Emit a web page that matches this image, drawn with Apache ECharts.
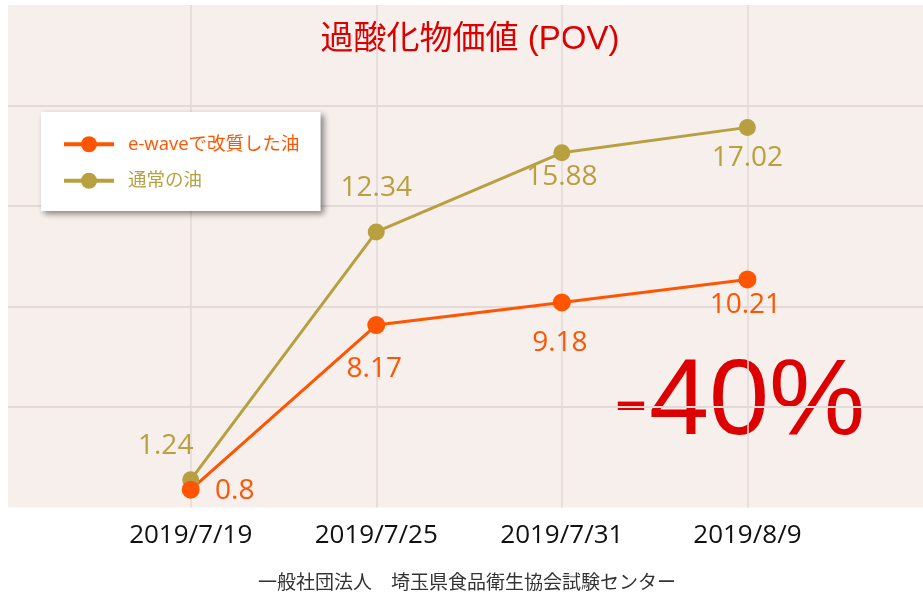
<!DOCTYPE html>
<html>
<head>
<meta charset="utf-8">
<script src="https://cdn.jsdelivr.net/npm/echarts@6/dist/echarts.min.js"></script>
<style>
  html, body { margin: 0; padding: 0; background: #fff; }
  #chart { width: 923px; height: 598px; }
</style>
</head>
<body>
<div id="chart"></div>
<script>
// data
var dates = ['2019/7/19', '2019/7/25', '2019/7/31', '2019/8/9'];
var ewaveOil = [0.8, 8.17, 9.18, 10.21];
var normalOil = [1.24, 12.34, 15.88, 17.02];
var seriesNames = ['e-waveで改質した油', '通常の油'];

var FONT = "'Open Sans', 'Noto Sans CJK JP', sans-serif";
var FONT2 = "'Liberation Sans', 'Noto Sans CJK JP', sans-serif";
var colors = ['#ff5500', '#b8a040', '#dd0000', '#f7efec', '#e3d9d7'];

// label offsets (relative to each point), one per point
var ewaveLabelOffset = [[44, 1], [-2, 44], [-2, 41], [-2, 26]];
var normalLabelOffset = [[-25, -34], [0, -44], [0, 24], [0, 31]];

function withLabels(values, offsets) {
    return values.map(function (v, i) {
        return { value: v, label: { offset: offsets[i] } };
    });
}

var chart = echarts.init(document.getElementById('chart'));
var option = {
    animation: false,
    textStyle: { fontFamily: FONT },
    graphic: [
        {
            type: 'rect', z: -10,
            shape: { x: 8, y: 5, width: 915, height: 502.5 },
            style: { fill: colors[3] }
        },
        {
            type: 'text',
            style: {
                text: '過酸化物価値 (POV)', x: 470, y: 40,
                align: 'center', verticalAlign: 'middle',
                font: '33px ' + FONT2, fill: colors[2]
            }
        },
        {
            type: 'text',
            style: {
                text: '-40%', x: 739, y: 404,
                align: 'center', verticalAlign: 'middle',
                font: '108px ' + FONT2, fill: colors[2]
            }
        },
        {
            type: 'text',
            style: {
                text: '一般社団法人　埼玉県食品衛生協会試験センター', x: 467, y: 584,
                align: 'center', verticalAlign: 'middle',
                font: '19px ' + FONT, fill: '#333'
            }
        }
    ],
    legend: {
        orient: 'vertical',
        left: 41,
        top: 112,
        data: seriesNames,
        backgroundColor: '#fff',
        padding: [23, 21, 21, 21],
        itemWidth: 50,
        itemHeight: 20,
        itemGap: 18,
        shadowBlur: 6,
        shadowColor: 'rgba(0,0,0,0.45)',
        shadowOffsetX: 3,
        shadowOffsetY: 3,
        lineStyle: { width: 4 },
        textStyle: {
            fontSize: 18.5,
            color: 'inherit',
            padding: [0, 0, 0, 9],
            fontFamily: FONT
        }
    },
    grid: [
        // data grid: the four dates
        { left: 190.7, right: 175.6, top: 5, height: 502.5 },
        // full-width grid for the horizontal lines
        { left: 8, right: 0, top: 5, height: 502.5 }
    ],
    xAxis: [
        {
            type: 'category',
            gridIndex: 0,
            boundaryGap: false,
            data: dates,
            axisLine: { show: false },
            axisTick: { show: false },
            axisLabel: {
                interval: 0,
                margin: 15,
                fontSize: 26,
                color: '#111',
                fontFamily: FONT
            },
            splitLine: {
                show: true,
                lineStyle: { color: colors[4], width: 1.5 }
            }
        },
        {
            type: 'value',
            gridIndex: 1,
            show: false
        }
    ],
    yAxis: [
        {
            type: 'value',
            gridIndex: 0,
            min: 0,
            max: 22.5,
            interval: 4.5,
            show: false
        },
        {
            type: 'value',
            gridIndex: 1,
            min: 0,
            max: 22.5,
            interval: 4.5,
            axisLine: { show: false },
            axisTick: { show: false },
            axisLabel: { show: false },
            splitLine: {
                show: true,
                showMinLine: false,
                showMaxLine: false,
                lineStyle: { color: colors[4], width: 2 }
            }
        }
    ],
    series: [
        {
            name: seriesNames[1],
            type: 'line',
            xAxisIndex: 0,
            yAxisIndex: 0,
            clip: false,
            data: withLabels(normalOil, normalLabelOffset),
            symbol: 'circle',
            symbolSize: 17,
            lineStyle: { color: colors[1], width: 3 },
            itemStyle: { color: colors[1] },
            label: {
                show: true,
                position: 'inside',
                fontSize: 28,
                color: colors[1],
                fontFamily: FONT
            }
        },
        {
            name: seriesNames[0],
            type: 'line',
            xAxisIndex: 0,
            yAxisIndex: 0,
            clip: false,
            data: withLabels(ewaveOil, ewaveLabelOffset),
            symbol: 'circle',
            symbolSize: 18,
            lineStyle: { color: colors[0], width: 3 },
            itemStyle: { color: colors[0] },
            label: {
                show: true,
                position: 'inside',
                fontSize: 28,
                color: colors[0],
                fontFamily: FONT
            }
        }
    ]
};
chart.setOption(option);
</script>
</body>
</html>
